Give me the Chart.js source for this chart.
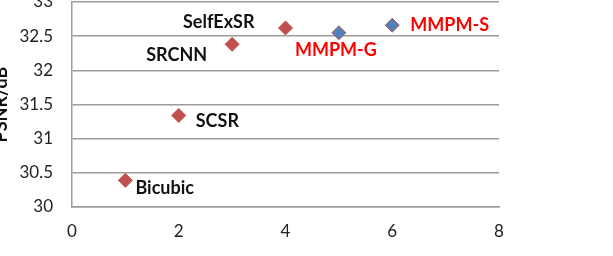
<!DOCTYPE html>
<html>
<head>
<meta charset="utf-8">
<script src="https://cdn.jsdelivr.net/npm/chart.js@4.4.1/dist/chart.umd.min.js"></script>
<style>
  html, body { margin: 0; padding: 0; background: #fff; }
  #wrap { position: relative; width: 613px; height: 256px; overflow: hidden; }
  #chart { position: absolute; left: -14px; top: -12px; }
</style>
</head>
<body>
<div id="wrap"><canvas id="chart" width="640" height="290"></canvas></div>
<script>
// baseline methods (red) and proposed methods (blue)
const baseNames = ["Bicubic", "SCSR", "SRCNN", "SelfExSR"];
const baseX = [1, 2, 3, 4];
const basePsnr = [30.39, 31.34, 32.38, 32.62];

const oursNames = ["MMPM-G", "MMPM-S"];
const oursX = [5, 6];
const oursPsnr = [32.55, 32.66];

const yTicks = [30, 30.5, 31, 31.5, 32, 32.5, 33];
const xTicks = [0, 2, 4, 6, 8];

const gridGrey = "#9c9c9c";
const red = "#C0504D";
const blue = "#4F81BD";

// where each label sits relative to its point
const labelStyle = {
  "Bicubic":  { dx: 10,  dy: 8,  align: "left",  color: "#111" },
  "SCSR":     { dx: 17,  dy: 6,  align: "left",  color: "#111" },
  "SRCNN":    { dx: -25, dy: 11, align: "right", color: "#111" },
  "SelfExSR": { dx: -31, dy: -6, align: "right", color: "#111" },
  "MMPM-G":   { dx: -44, dy: 17, align: "left",  color: "#FF0000" },
  "MMPM-S":   { dx: 18,  dy: 0,  align: "left",  color: "#FF0000" }
};

const pointLabels = {
  id: "pointLabels",
  afterDatasetsDraw(chart) {
    const ctx = chart.ctx;
    ctx.save();
    ctx.font = "bold 18px Lato";
    ctx.textBaseline = "middle";
    chart.data.datasets.forEach((ds, i) => {
      chart.getDatasetMeta(i).data.forEach((pt, j) => {
        const name = ds.names[j];
        const s = labelStyle[name];
        ctx.fillStyle = s.color;
        ctx.textAlign = s.align;
        ctx.fillText(name, pt.x + s.dx, pt.y + s.dy);
      });
    });
    ctx.restore();
  }
};

new Chart(document.getElementById("chart"), {
  type: "scatter",
  data: {
    datasets: [
      {
        names: baseNames,
        data: baseX.map((x, i) => ({ x: x, y: basePsnr[i] })),
        pointStyle: "rectRot",
        pointRadius: 7,
        pointBackgroundColor: red,
        pointBorderColor: red,
        pointBorderWidth: 1
      },
      {
        names: oursNames,
        data: oursX.map((x, i) => ({ x: x, y: oursPsnr[i] })),
        pointStyle: "rectRot",
        pointRadius: 7,
        pointBackgroundColor: blue,
        pointBorderColor: "#B5584F",
        pointBorderWidth: 1
      }
    ]
  },
  options: {
    responsive: false,
    animation: false,
    devicePixelRatio: 1,
    layout: { padding: { left: 0, top: 14, right: 127, bottom: 31 } },
    plugins: { legend: { display: false }, tooltip: { enabled: false } },
    scales: {
      x: {
        type: "linear",
        min: 0,
        max: 8,
        afterFit(s) { s.height = 40; s.paddingLeft = 0; s.paddingRight = 0; },
        afterBuildTicks(s) { s.ticks = xTicks.map(v => ({ value: v })); },
        grid: { display: false, drawTicks: false },
        border: { display: true, color: gridGrey, width: 1.5 },
        ticks: { color: "#222", font: { family: "Lato", size: 17 }, padding: 14 }
      },
      y: {
        type: "linear",
        min: 30,
        max: 33,
        afterFit(s) { s.width = 86; s.paddingTop = 0; s.paddingBottom = 0; },
        afterBuildTicks(s) { s.ticks = yTicks.map(v => ({ value: v })); },
        grid: { color: gridGrey, lineWidth: 1.5, drawTicks: false },
        border: { display: true, color: gridGrey, width: 1.5 },
        ticks: {
          color: "#222",
          font: { family: "Lato", size: 17 },
          padding: 19,
          callback: v => String(v)
        },
        title: {
          display: true,
          text: "PSNR/dB",
          color: "#111",
          font: { family: "Lato", size: 18, weight: "bold" },
          padding: { top: 4, bottom: 0 }
        }
      }
    }
  },
  plugins: [pointLabels]
});
</script>
</body>
</html>
